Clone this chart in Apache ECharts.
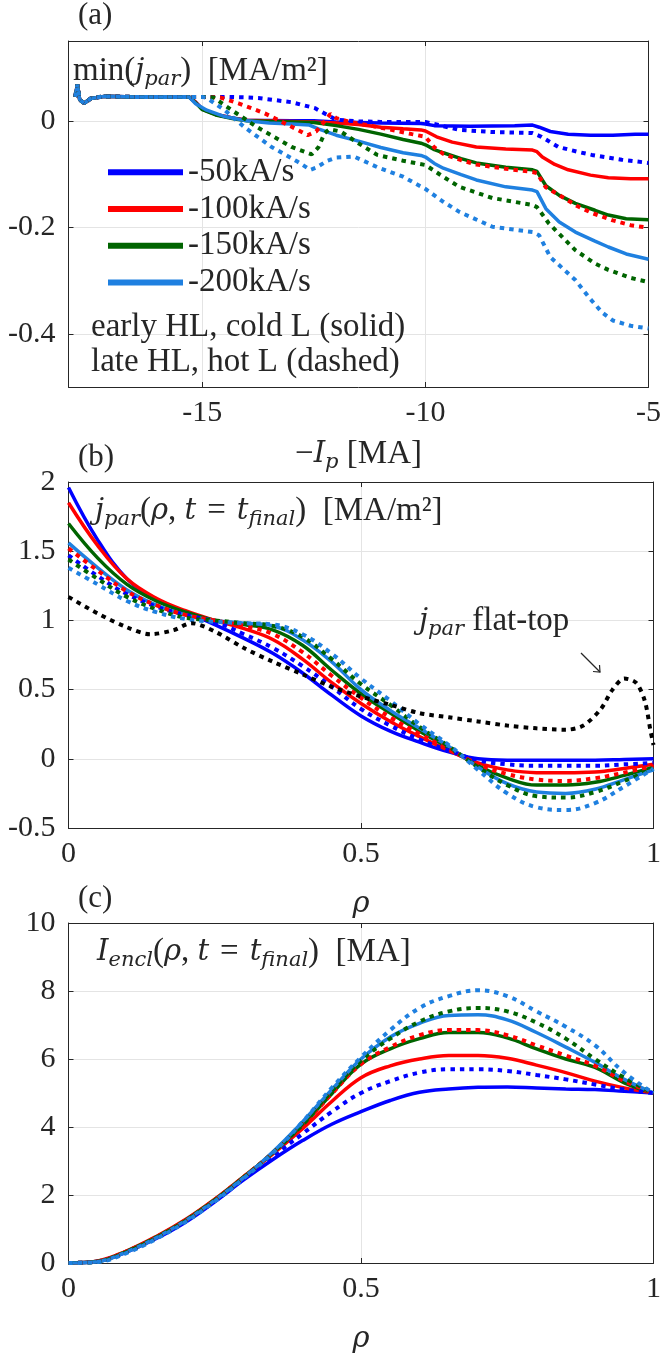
<!DOCTYPE html>
<html>
<head>
<meta charset="utf-8">
<script src="https://cdn.jsdelivr.net/npm/echarts@6/dist/echarts.min.js"></script>
<style>
  html, body { margin: 0; padding: 0; background: #fff; }
  #chart { width: 664px; height: 1355px; }
</style>
</head>
<body>
<div id="chart"></div>
<script>
// ---------- Panel (a): min(j_par) versus -Ip, ramp-down rates ----------
const rampLabels = ['-50kA/s', '-100kA/s', '-150kA/s', '-200kA/s'];

// shared flat-top segment at the start of every ramp-down
const ipStart = [[-17.85, 0.045], [-17.8, 0.068], [-17.75, 0.04], [-17.65, 0.033], [-17.5, 0.042], [-17.2, 0.046], [-16.5, 0.045], [-15.8, 0.045]];

// early HL, cold L (solid)
const ipBlueSolid = ipStart.concat([[-15.3, 0.045], [-15.15, 0.035], [-15.0, 0.022], [-14.7, 0.012], [-14.3, 0.005], [-14.0, 0.001], [-13.0, 0.0], [-12.5, 0.0], [-12.0, -0.002], [-11.0, -0.004], [-10.1, -0.005], [-10.0, -0.006], [-9.8, -0.009], [-9.0, -0.01], [-8.0, -0.009], [-7.6, -0.008], [-7.45, -0.012], [-7.2, -0.02], [-6.8, -0.025], [-6.3, -0.027], [-5.8, -0.027], [-5.3, -0.025], [-5.0, -0.025]]);
const ipRedSolid = ipStart.concat([[-15.3, 0.045], [-15.15, 0.035], [-15.0, 0.022], [-14.7, 0.012], [-14.3, 0.005], [-14.0, 0.001], [-13.0, -0.001], [-12.5, -0.002], [-12.0, -0.004], [-11.5, -0.007], [-11.0, -0.012], [-10.5, -0.015], [-10.1, -0.017], [-10.0, -0.019], [-9.75, -0.03], [-9.4, -0.04], [-8.86, -0.049], [-8.2, -0.053], [-7.6, -0.055], [-7.5, -0.058], [-7.38, -0.068], [-7.1, -0.082], [-6.8, -0.092], [-6.3, -0.102], [-5.9, -0.107], [-5.4, -0.109], [-5.0, -0.109]]);
const ipGreenSolid = ipStart.concat([[-15.3, 0.045], [-15.15, 0.034], [-15.0, 0.021], [-14.7, 0.011], [-14.3, 0.004], [-14.0, 0.0], [-13.0, -0.002], [-12.5, -0.003], [-12.0, -0.009], [-11.5, -0.016], [-11.0, -0.025], [-10.5, -0.035], [-10.1, -0.042], [-10.0, -0.045], [-9.8, -0.054], [-9.6, -0.06], [-9.2, -0.071], [-8.86, -0.079], [-8.2, -0.087], [-7.6, -0.092], [-7.5, -0.095], [-7.3, -0.122], [-7.0, -0.14], [-6.64, -0.155], [-6.2, -0.168], [-5.9, -0.177], [-5.5, -0.184], [-5.0, -0.186]]);
const ipLightSolid = ipStart.concat([[-15.3, 0.045], [-15.15, 0.032], [-14.9, 0.02], [-14.5, 0.008], [-14.0, 0.0], [-13.5, -0.004], [-13.0, -0.006], [-12.6, -0.008], [-12.4, -0.015], [-12.0, -0.027], [-11.5, -0.038], [-11.0, -0.05], [-10.5, -0.06], [-10.1, -0.065], [-10.0, -0.068], [-9.8, -0.08], [-9.6, -0.089], [-9.2, -0.101], [-8.86, -0.111], [-8.2, -0.124], [-7.6, -0.13], [-7.5, -0.133], [-7.3, -0.165], [-7.0, -0.19], [-6.64, -0.209], [-6.2, -0.226], [-5.9, -0.237], [-5.5, -0.25], [-5.0, -0.26]]);

// late HL, hot L (dashed)
const ipBlueDash = ipStart.concat([[-15.0, 0.045], [-14.5, 0.045], [-14.0, 0.044], [-13.75, 0.043], [-13.0, 0.035], [-12.48, 0.024], [-12.2, 0.011], [-12.0, 0.002], [-11.5, -0.001], [-11.0, -0.002], [-10.5, -0.002], [-10.0, -0.002], [-9.6, -0.01], [-9.24, -0.017], [-8.5, -0.021], [-7.6, -0.023], [-7.4, -0.03], [-7.02, -0.049], [-6.6, -0.058], [-6.27, -0.064], [-5.6, -0.073], [-5.0, -0.079]]);
const ipRedDash = ipStart.concat([[-15.0, 0.045], [-14.6, 0.044], [-14.19, 0.033], [-13.6, 0.014], [-13.0, -0.011], [-12.64, -0.027], [-12.45, -0.02], [-12.25, 0.0], [-12.13, 0.013], [-12.0, 0.005], [-11.7, -0.002], [-11.3, -0.008], [-10.8, -0.016], [-10.3, -0.025], [-10.0, -0.03], [-9.8, -0.05], [-9.6, -0.062], [-9.2, -0.074], [-8.86, -0.082], [-8.2, -0.09], [-7.6, -0.096], [-7.5, -0.098], [-7.3, -0.125], [-6.93, -0.143], [-6.6, -0.16], [-6.27, -0.173], [-5.8, -0.187], [-5.4, -0.196], [-5.0, -0.201]]);
const ipGreenDash = ipStart.concat([[-15.0, 0.045], [-14.75, 0.044], [-14.34, 0.02], [-13.75, -0.013], [-13.0, -0.049], [-12.55, -0.063], [-12.4, -0.05], [-12.26, -0.023], [-12.15, -0.016], [-11.9, -0.02], [-11.54, -0.04], [-11.08, -0.064], [-10.5, -0.075], [-10.0, -0.083], [-9.6, -0.105], [-9.24, -0.124], [-8.5, -0.145], [-7.6, -0.158], [-7.5, -0.162], [-7.24, -0.192], [-6.64, -0.243], [-6.2, -0.268], [-5.9, -0.28], [-5.4, -0.295], [-5.0, -0.303]]);
const ipLightDash = ipStart.concat([[-15.0, 0.045], [-14.9, 0.043], [-14.5, 0.02], [-14.04, -0.013], [-13.45, -0.049], [-12.86, -0.077], [-12.58, -0.092], [-12.45, -0.088], [-12.2, -0.075], [-12.0, -0.069], [-11.6, -0.067], [-11.08, -0.087], [-10.5, -0.105], [-10.0, -0.128], [-9.6, -0.152], [-9.24, -0.171], [-8.5, -0.199], [-7.6, -0.209], [-7.45, -0.215], [-7.2, -0.256], [-6.64, -0.299], [-6.3, -0.335], [-6.04, -0.36], [-5.8, -0.375], [-5.4, -0.385], [-5.0, -0.39]]);

const ipTicks = [-15, -10, -5];
const minjTicks = [-0.4, -0.2, 0];

// ---------- Panels (b) and (c): radial profiles at t_final ----------
const rho = [0, 0.05, 0.1, 0.15, 0.2, 0.25, 0.3, 0.35, 0.4, 0.45, 0.5, 0.55, 0.6, 0.65, 0.7, 0.75, 0.8, 0.85, 0.9, 0.95, 1];

const jBlueSolid  = [1.96, 1.58, 1.3, 1.15, 1.06, 0.97, 0.87, 0.76, 0.62, 0.46, 0.31, 0.2, 0.12, 0.05, 0.0, -0.01, -0.01, -0.01, -0.01, -0.005, 0.0];
const jRedSolid   = [1.85, 1.54, 1.3, 1.16, 1.07, 1.0, 0.94, 0.86, 0.72, 0.55, 0.4, 0.27, 0.16, 0.06, -0.03, -0.08, -0.1, -0.1, -0.095, -0.07, -0.04];
const jGreenSolid = [1.70, 1.45, 1.26, 1.14, 1.06, 1.0, 0.97, 0.93, 0.82, 0.64, 0.47, 0.33, 0.2, 0.08, -0.05, -0.14, -0.19, -0.19, -0.17, -0.12, -0.06];
const jLightSolid = [1.56, 1.38, 1.22, 1.11, 1.04, 1.0, 0.98, 0.96, 0.86, 0.7, 0.5, 0.35, 0.22, 0.09, -0.06, -0.18, -0.24, -0.25, -0.22, -0.15, -0.08];
const jBlueDash   = [1.47, 1.32, 1.19, 1.1, 1.04, 0.99, 0.9, 0.8, 0.67, 0.52, 0.36, 0.24, 0.14, 0.06, -0.01, -0.04, -0.05, -0.05, -0.05, -0.04, -0.03];
const jRedDash    = [1.52, 1.36, 1.21, 1.11, 1.04, 1.0, 0.96, 0.9, 0.77, 0.6, 0.44, 0.3, 0.18, 0.07, -0.04, -0.11, -0.15, -0.16, -0.14, -0.1, -0.05];
const jGreenDash  = [1.44, 1.3, 1.17, 1.08, 1.02, 1.0, 0.98, 0.96, 0.88, 0.72, 0.54, 0.39, 0.23, 0.09, -0.06, -0.19, -0.27, -0.28, -0.24, -0.16, -0.07];
const jLightDash  = [1.38, 1.26, 1.14, 1.06, 1.01, 0.99, 0.98, 0.97, 0.9, 0.76, 0.58, 0.42, 0.25, 0.1, -0.08, -0.25, -0.35, -0.37, -0.32, -0.2, -0.07];

// flat-top reference profile
const rhoFlat = [0, 0.05, 0.1, 0.14, 0.18, 0.21, 0.25, 0.3, 0.35, 0.4, 0.45, 0.5, 0.55, 0.6, 0.65, 0.7, 0.75, 0.8, 0.85, 0.88, 0.91, 0.93, 0.95, 0.97, 0.985, 0.995, 1];
const jFlatTop = [1.17, 1.05, 0.95, 0.9, 0.93, 0.98, 0.92, 0.8, 0.7, 0.61, 0.52, 0.45, 0.39, 0.33, 0.3, 0.27, 0.24, 0.22, 0.21, 0.24, 0.36, 0.5, 0.58, 0.55, 0.42, 0.2, 0.1];

const iBlueSolid  = [0, 0.05, 0.33, 0.72, 1.2, 1.8, 2.45, 3.05, 3.6, 4.08, 4.45, 4.78, 5.02, 5.12, 5.17, 5.18, 5.15, 5.12, 5.1, 5.05, 5.0];
const iRedSolid   = [0, 0.06, 0.36, 0.78, 1.28, 1.88, 2.55, 3.22, 3.95, 4.75, 5.45, 5.8, 6.0, 6.1, 6.1, 6.02, 5.82, 5.6, 5.35, 5.15, 5.0];
const iGreenSolid = [0, 0.05, 0.35, 0.76, 1.26, 1.86, 2.54, 3.25, 4.05, 4.98, 5.85, 6.3, 6.6, 6.78, 6.78, 6.62, 6.3, 6.0, 5.75, 5.3, 5.0];
const iLightSolid = [0, 0.04, 0.33, 0.74, 1.24, 1.84, 2.52, 3.28, 4.15, 5.1, 6.0, 6.65, 7.05, 7.28, 7.3, 7.15, 6.78, 6.35, 5.9, 5.4, 5.0];
const iBlueDash   = [0, 0.05, 0.33, 0.73, 1.22, 1.82, 2.48, 3.15, 3.8, 4.45, 5.0, 5.35, 5.6, 5.7, 5.7, 5.65, 5.53, 5.4, 5.25, 5.1, 5.0];
const iRedDash    = [0, 0.05, 0.35, 0.76, 1.26, 1.86, 2.54, 3.25, 4.05, 4.98, 5.85, 6.35, 6.7, 6.85, 6.85, 6.7, 6.4, 6.1, 5.8, 5.35, 5.0];
const iGreenDash  = [0, 0.04, 0.33, 0.74, 1.24, 1.84, 2.52, 3.25, 4.1, 5.05, 5.95, 6.6, 7.1, 7.4, 7.5, 7.4, 7.07, 6.6, 6.0, 5.45, 5.0];
const iLightDash  = [0, 0.03, 0.3, 0.71, 1.21, 1.81, 2.5, 3.25, 4.15, 5.15, 6.05, 6.85, 7.5, 7.85, 8.02, 7.85, 7.4, 6.95, 6.4, 5.6, 5.0];

// ---------- styling ----------
const SERIF = '"Liberation Serif", "DejaVu Serif", serif';
const MATH = '"DejaVu Serif", "Liberation Serif", serif';
const TXT = '#262626';
const GRIDC = '#e4e4e4';
const COLORS = ['#0000ff', '#ff0000', '#006400', '#1f80e0'];
const FS = 33;      // plain text
const FT = 30;      // tick labels
const FM = 29;      // italic math symbols
const FSUB = 21;    // subscripts

function pairs(xs, ys) { return xs.map((x, k) => [x, ys[k]]); }

// rich-text styles for math-like labels
function richStyles(colorKey) {
  const c = {}; c[colorKey] = TXT;
  return {
    n: Object.assign({ fontFamily: SERIF, fontSize: FS, lineHeight: 38 }, c),
    i: Object.assign({ fontFamily: MATH, fontSize: FM, fontStyle: 'italic', lineHeight: 38 }, c),
    s: Object.assign({ fontFamily: MATH, fontSize: FSUB, fontStyle: 'italic', lineHeight: 22, verticalAlign: 'bottom' }, c)
  };
}
const richLabel = richStyles('color');
const richGraphic = richStyles('fill');

const grids = [
  { left: 68.5, right: 10, top: 41, height: 346 },
  { left: 68.5, right: 10, top: 482, height: 346 },
  { left: 68.5, right: 10, top: 923, height: 346 }
];

function axisBase(extra) {
  return Object.assign({
    type: 'value',
    axisLine: { show: true, onZero: false, lineStyle: { color: TXT, width: 1 } },
    axisTick: { show: true, inside: true, length: 5, lineStyle: { color: TXT, width: 1 } },
    axisLabel: { fontFamily: SERIF, fontSize: FT, color: TXT },
    splitLine: { show: true, lineStyle: { color: GRIDC, width: 1 } }
  }, extra);
}
function mirror(base, position) {
  const m = JSON.parse(JSON.stringify(base));
  m.position = position;
  m.axisLabel = Object.assign({}, m.axisLabel, { show: false });
  m.splitLine = { show: false };
  delete m.name;
  return m;
}

const rhoName = {
  name: 'ρ', nameLocation: 'middle', nameGap: 62,
  nameTextStyle: { fontFamily: MATH, fontSize: FM, fontStyle: 'italic', color: TXT }
};

const xA = axisBase({
  gridIndex: 0, min: -18, max: -5, position: 'bottom',
  axisTick: { show: true, inside: true, length: 5, lineStyle: { color: TXT }, customValues: ipTicks },
  axisLabel: { fontFamily: SERIF, fontSize: FT, color: TXT, margin: 11, customValues: ipTicks },
  name: '{n|−}{i|I}{s|p}{n| [MA]}', nameLocation: 'middle', nameGap: 48,
  nameTextStyle: { rich: richLabel }
});
const yA = axisBase({
  gridIndex: 0, min: -0.5, max: 0.15, position: 'left',
  axisTick: { show: true, inside: true, length: 5, lineStyle: { color: TXT }, customValues: minjTicks },
  axisLabel: { fontFamily: SERIF, fontSize: FT, color: TXT, margin: 13, customValues: minjTicks }
});
const xB = axisBase(Object.assign({
  gridIndex: 1, min: 0, max: 1, interval: 0.5, position: 'bottom',
  axisLabel: { fontFamily: SERIF, fontSize: FT, color: TXT, margin: 11 }
}, rhoName));
const yB = axisBase({
  gridIndex: 1, min: -0.5, max: 2, interval: 0.5, position: 'left',
  axisLabel: { fontFamily: SERIF, fontSize: FT, color: TXT, margin: 13 }
});
const xC = axisBase(Object.assign({
  gridIndex: 2, min: 0, max: 1, interval: 0.5, position: 'bottom',
  axisLabel: { fontFamily: SERIF, fontSize: FT, color: TXT, margin: 11 }
}, rhoName));
const yC = axisBase({
  gridIndex: 2, min: 0, max: 10, interval: 2, position: 'left',
  axisLabel: { fontFamily: SERIF, fontSize: FT, color: TXT, margin: 13 }
});

const xAxes = [xA, mirror(xA, 'top'), xB, mirror(xB, 'top'), xC, mirror(xC, 'top')];
const yAxes = [yA, mirror(yA, 'right'), yB, mirror(yB, 'right'), yC, mirror(yC, 'right')];

function line(name, data, color, dashed, panel, smooth) {
  return {
    type: 'line', name: name, data: data,
    xAxisIndex: panel * 2, yAxisIndex: panel * 2,
    showSymbol: false, symbol: 'none', smooth: smooth || false,
    color: color, itemStyle: { color: color },
    lineStyle: dashed
      ? { color: color, width: 4, type: [4.5, 5], cap: 'butt' }
      : { color: color, width: 3.5 },
    emphasis: { disabled: true }, silent: true, z: dashed ? 3 : 2
  };
}

const series = [];
// (a)
[ipBlueSolid, ipRedSolid, ipGreenSolid, ipLightSolid].forEach((d, k) => series.push(line(rampLabels[k], d, COLORS[k], false, 0)));
[ipBlueDash, ipRedDash, ipGreenDash, ipLightDash].forEach((d, k) => series.push(line(rampLabels[k] + ' dashed', d, COLORS[k], true, 0)));
// (b)
[jBlueSolid, jRedSolid, jGreenSolid, jLightSolid].forEach((d, k) => series.push(line('j ' + rampLabels[k], pairs(rho, d), COLORS[k], false, 1, 0.4)));
[jBlueDash, jRedDash, jGreenDash, jLightDash].forEach((d, k) => series.push(line('j ' + rampLabels[k] + ' dashed', pairs(rho, d), COLORS[k], true, 1, 0.4)));
series.push(line('j flat-top', pairs(rhoFlat, jFlatTop), '#000000', true, 1, 0.3));
// (c)
[iBlueSolid, iRedSolid, iGreenSolid, iLightSolid].forEach((d, k) => series.push(line('I ' + rampLabels[k], pairs(rho, d), COLORS[k], false, 2, 0.4)));
[iBlueDash, iRedDash, iGreenDash, iLightDash].forEach((d, k) => series.push(line('I ' + rampLabels[k] + ' dashed', pairs(rho, d), COLORS[k], true, 2, 0.4)));

function gtext(x, y, text, extra) {
  return {
    type: 'text', x: x, y: y, z: 50, silent: true,
    style: Object.assign({ text: text, rich: richGraphic, fill: TXT, align: 'left', verticalAlign: 'middle',
      fontFamily: SERIF, fontSize: FS }, extra || {})
  };
}

const EN = '\u2002';
const SP = '\u2004';
const graphic = [
  gtext(78, 16, '(a)', { fontSize: 31 }),
  gtext(78, 458, '(b)', { fontSize: 31 }),
  gtext(78, 899, '(c)', { fontSize: 31 }),
  gtext(73, 71, '{n|min(}{i|j}{s|par}{n|)' + EN + '[MA/m²]}'),
  gtext(91, 327, 'early HL, cold L (solid)'),
  gtext(91, 362, 'late HL, hot L (dashed)'),
  gtext(95, 511, '{i|j}{s|par}{n|(}{i|ρ}{n|, }{i|t}{n|' + SP + '=' + SP + '}{i|t}{s|final}{n|)' + EN + '[MA/m²]}'),
  gtext(419, 621, '{i|j}{s|par}{n| flat-top}'),
  gtext(97, 952, '{i|I}{s|encl}{n|(}{i|ρ}{n|, }{i|t}{n|' + SP + '=' + SP + '}{i|t}{s|final}{n|)' + EN + '[MA]}'),
  { type: 'line', z: 50, silent: true, shape: { x1: 581, y1: 653, x2: 600, y2: 672 }, style: { stroke: TXT, lineWidth: 1.2 } },
  { type: 'polyline', z: 50, silent: true, shape: { points: [[593, 671.5], [600, 672], [599.5, 665]] }, style: { stroke: TXT, lineWidth: 1.2, fill: null } }
];

const chart = echarts.init(document.getElementById('chart'), null, { renderer: 'canvas' });
chart.setOption({
  animation: false,
  backgroundColor: '#ffffff',
  textStyle: { fontFamily: SERIF },
  grid: grids,
  legend: {
    data: rampLabels, orient: 'vertical', left: 108, top: 154,
    itemWidth: 75, itemHeight: 6, itemGap: 0, icon: 'rect', selectedMode: false, padding: 0,
    itemStyle: { borderWidth: 0 },
    textStyle: { fontFamily: SERIF, fontSize: FS, color: TXT, lineHeight: 36.7 }
  },
  xAxis: xAxes,
  yAxis: yAxes,
  series: series,
  graphic: graphic
});
</script>
</body>
</html>
